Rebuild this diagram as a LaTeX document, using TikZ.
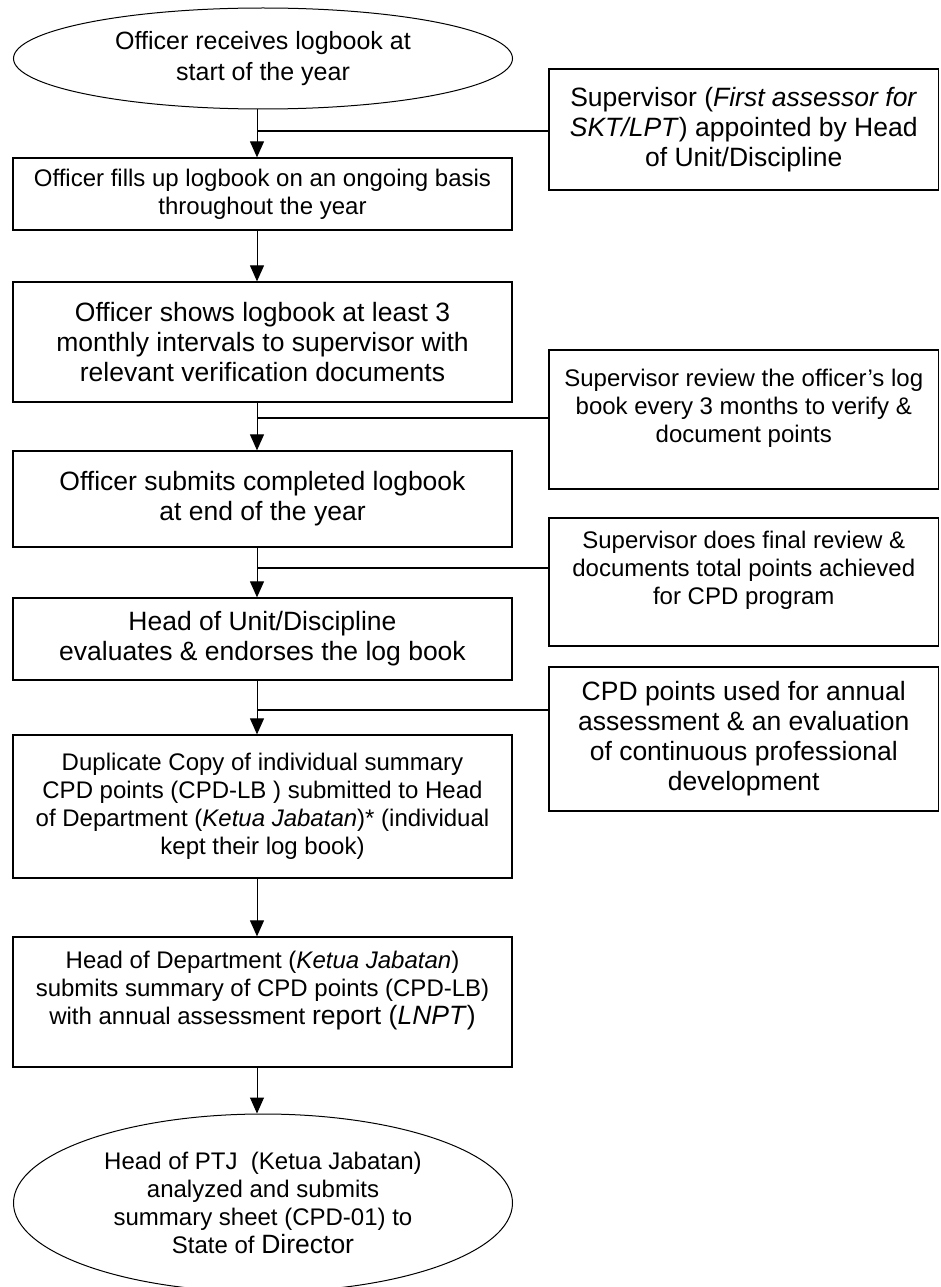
\documentclass[tikz,border=0pt]{standalone}
\usepackage{fontspec}
\setmainfont{Liberation Sans}
\usetikzlibrary{arrows.meta,shapes.geometric}
\newcommand{\lrg}{\fontsize{26.5}{30}\selectfont}
\newcommand{\medsz}{\fontsize{25}{31}\selectfont}
\newcommand{\sml}{\fontsize{24}{28}\selectfont}

\begin{document}
\begin{tikzpicture}[x=1pt,y=-1pt,
  stepbox/.style={draw,line width=1.3pt,rectangle,inner sep=0pt,align=center,minimum width=499pt},
  sidebox/.style={draw,line width=1.3pt,rectangle,inner sep=0pt,align=center,minimum width=389.5pt},
  endell/.style={draw,line width=1pt,ellipse,inner sep=0pt,align=center,minimum width=499pt},
  arr/.style={line width=1pt,-{Triangle[length=16pt,width=14pt]}},
  link/.style={line width=1.3pt}]
  \useasboundingbox (0,0) rectangle (940,1287);

  % left column
  \node[endell,minimum height=101pt,font=\medsz] (start) at (263,58.5) {Officer receives logbook at\\start of the year};
  \node[stepbox,minimum height=72pt,font=\sml] (fill) at (262.5,194) {Officer fills up logbook on an ongoing basis\\throughout the year};
  \node[stepbox,minimum height=120pt,font=\lrg] (show) at (262.5,342) {Officer shows logbook at least 3\\monthly intervals to supervisor with\\relevant verification documents};
  \node[stepbox,minimum height=96pt,font=\lrg] (submit) at (262.5,499) {Officer submits completed logbook\\at end of the year};
  \node[stepbox,minimum height=82pt,font=\lrg] (endorse) at (262.5,639) {Head of Unit/Discipline\\evaluates \& endorses the log book};
  \node[stepbox,minimum height=143pt,font=\sml] (copy) at (262.5,806.5) {Duplicate Copy of individual summary\\CPD points (CPD-LB ) submitted to Head\\of Department (\textit{Ketua Jabatan})* (individual\\kept their log book)};
  \node[stepbox,minimum height=130pt,font=\sml] (hod) at (262.5,1002) {Head of Department (\textit{Ketua Jabatan})\\submits summary of CPD points (CPD-LB)\\with annual assessment {\lrg report (\textit{LNPT})}\\\mbox{}};
  \node[endell,minimum height=178pt,font=\sml] (ptj) at (263,1203) {Head of PTJ\ \ (Ketua Jabatan)\\analyzed and submits\\summary sheet (CPD-01) to\\State of {\lrg Director}};

  % right column
  \node[sidebox,minimum height=121pt,font=\lrg] (assessor) at (743.75,129.5) {Supervisor (\textit{First assessor for}\\\textit{SKT/LPT}) appointed by Head\\of Unit/Discipline};
  \node[sidebox,minimum height=139pt,font=\sml] (review) at (743.75,419.5) {Supervisor review the officer’s log\\book every 3 months to verify \&\\document points\\\mbox{}};
  \node[sidebox,minimum height=128pt,font=\sml] (final) at (743.75,582) {Supervisor does final review \&\\documents total points achieved\\for CPD program\\\mbox{}};
  \node[sidebox,minimum height=144pt,font=\lrg] (cpduse) at (743.75,739) {CPD points used for annual\\assessment \& an evaluation\\of continuous professional\\development};

  % joins
  \coordinate (j1) at (257,131);
  \coordinate (j2) at (257,418);
  \coordinate (j3) at (257,568);
  \coordinate (j4) at (257,710);

  \draw[arr] ([xshift=-6pt]start.south) -- ([xshift=-5.5pt]fill.north);
  \draw[arr] ([xshift=-5.5pt]fill.south) -- ([xshift=-5.5pt]show.north);
  \draw[arr] ([xshift=-5.5pt]show.south) -- ([xshift=-5.5pt]submit.north);
  \draw[arr] ([xshift=-5.5pt]submit.south) -- ([xshift=-5.5pt]endorse.north);
  \draw[arr] ([xshift=-5.5pt]endorse.south) -- ([xshift=-5.5pt]copy.north);
  \draw[arr] ([xshift=-5.5pt]copy.south) -- ([xshift=-5.5pt]hod.north);
  \draw[arr] ([xshift=-5.5pt]hod.south) -- ([xshift=-6pt]ptj.north);

  \draw[link] (j1) -- (j1 -| assessor.west);
  \draw[link] (j2) -- (j2 -| review.west);
  \draw[link] (j3) -- (j3 -| final.west);
  \draw[link] (j4) -- (j4 -| cpduse.west);
\end{tikzpicture}
\end{document}
